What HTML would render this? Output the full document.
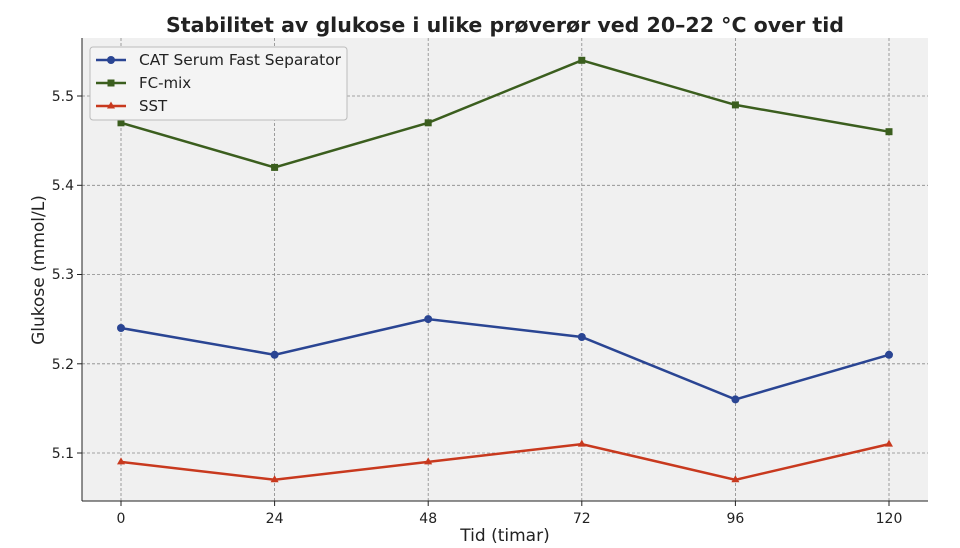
<!DOCTYPE html>
<html><head><meta charset="utf-8"><style>body{margin:0;background:#fff}svg{display:block}text{font-family:"DejaVu Sans","Liberation Sans",sans-serif}</style></head>
<body>
<svg width="960" height="548" viewBox="0 0 960 548">
<rect x="0" y="0" width="960" height="548" fill="#fff"/>
<rect x="82" y="38" width="846" height="463" fill="#f0f0f0"/>
<g stroke="#888" stroke-width="0.8" stroke-dasharray="3,2">
<line x1="121" y1="38" x2="121" y2="501"/><line x1="274.6" y1="38" x2="274.6" y2="501"/><line x1="428.2" y1="38" x2="428.2" y2="501"/><line x1="581.8" y1="38" x2="581.8" y2="501"/><line x1="735.4" y1="38" x2="735.4" y2="501"/><line x1="889" y1="38" x2="889" y2="501"/>
<line x1="82" y1="96" x2="928" y2="96"/><line x1="82" y1="185.3" x2="928" y2="185.3"/><line x1="82" y1="274.5" x2="928" y2="274.5"/><line x1="82" y1="363.8" x2="928" y2="363.8"/><line x1="82" y1="453" x2="928" y2="453"/>
</g>
<g stroke="#222" stroke-width="1"><line x1="82" y1="38" x2="82" y2="501"/><line x1="82" y1="501" x2="928" y2="501"/>
<line x1="121" y1="501" x2="121" y2="506"/><line x1="274.6" y1="501" x2="274.6" y2="506"/><line x1="428.2" y1="501" x2="428.2" y2="506"/><line x1="581.8" y1="501" x2="581.8" y2="506"/><line x1="735.4" y1="501" x2="735.4" y2="506"/><line x1="889" y1="501" x2="889" y2="506"/>
<line x1="77" y1="96" x2="82" y2="96"/><line x1="77" y1="185.3" x2="82" y2="185.3"/><line x1="77" y1="274.5" x2="82" y2="274.5"/><line x1="77" y1="363.8" x2="82" y2="363.8"/><line x1="77" y1="453" x2="82" y2="453"/></g>
<g font-size="14" fill="#222" text-anchor="middle">
<text x="121" y="523">0</text><text x="274.6" y="523">24</text><text x="428.2" y="523">48</text><text x="581.8" y="523">72</text><text x="735.4" y="523">96</text><text x="889" y="523">120</text></g>
<g font-size="14" fill="#222" text-anchor="end">
<text x="74" y="101">5.5</text><text x="74" y="190">5.4</text><text x="74" y="279">5.3</text><text x="74" y="369">5.2</text><text x="74" y="458">5.1</text></g>
<text x="505" y="541" font-size="17" text-anchor="middle" fill="#222">Tid (timar)</text>
<text x="44" y="270" font-size="17" text-anchor="middle" fill="#222" transform="rotate(-90 44 270)">Glukose (mmol/L)</text>
<text x="166" y="32" font-size="20" font-weight="bold" fill="#222" textLength="678" lengthAdjust="spacingAndGlyphs">Stabilitet av glukose i ulike prøverør ved 20–22 °C over tid</text>
<polyline fill="none" stroke="#2a4593" stroke-width="2.5" points="121,328 274.6,354.8 428.2,319.1 581.8,337 735.4,399.4 889,354.8"/>
<g fill="#2a4593"><circle cx="121" cy="328" r="4"/><circle cx="274.6" cy="354.8" r="4"/><circle cx="428.2" cy="319.1" r="4"/><circle cx="581.8" cy="337" r="4"/><circle cx="735.4" cy="399.4" r="4"/><circle cx="889" cy="354.8" r="4"/></g>
<polyline fill="none" stroke="#3b5e1e" stroke-width="2.5" points="121,122.8 274.6,167.4 428.2,122.8 581.8,60.3 735.4,104.9 889,131.7"/>
<g fill="#3b5e1e"><rect x="117.5" y="119.3" width="7" height="7"/><rect x="271.1" y="163.9" width="7" height="7"/><rect x="424.7" y="119.3" width="7" height="7"/><rect x="578.3" y="56.8" width="7" height="7"/><rect x="731.9" y="101.4" width="7" height="7"/><rect x="885.5" y="128.2" width="7" height="7"/></g>
<polyline fill="none" stroke="#c8391e" stroke-width="2.5" points="121,461.9 274.6,479.8 428.2,461.9 581.8,444.1 735.4,479.8 889,444.1"/>
<g fill="#c8391e"><polygon points="121,457.4 125,464.4 117,464.4"/><polygon points="274.6,475.3 278.6,482.3 270.6,482.3"/><polygon points="428.2,457.4 432.2,464.4 424.2,464.4"/><polygon points="581.8,439.6 585.8,446.6 577.8,446.6"/><polygon points="735.4,475.3 739.4,482.3 731.4,482.3"/><polygon points="889,439.6 893,446.6 885,446.6"/></g>
<rect x="90" y="47" width="257" height="73" rx="3" fill="#f4f4f4" stroke="#bbb" stroke-width="1"/>
<line x1="96" y1="60" x2="126" y2="60" stroke="#2a4593" stroke-width="2.5"/><circle cx="111" cy="60" r="4" fill="#2a4593"/>
<line x1="96" y1="83" x2="126" y2="83" stroke="#3b5e1e" stroke-width="2.5"/><rect x="107.5" y="79.5" width="7" height="7" fill="#3b5e1e"/>
<line x1="96" y1="106" x2="126" y2="106" stroke="#c8391e" stroke-width="2.5"/><polygon points="111,101.5 115,108.5 107,108.5" fill="#c8391e"/>
<g font-size="15" fill="#222"><text x="139" y="65" textLength="202" lengthAdjust="spacingAndGlyphs">CAT Serum Fast Separator</text><text x="139" y="88">FC-mix</text><text x="139" y="111">SST</text></g>
</svg>
</body></html>
